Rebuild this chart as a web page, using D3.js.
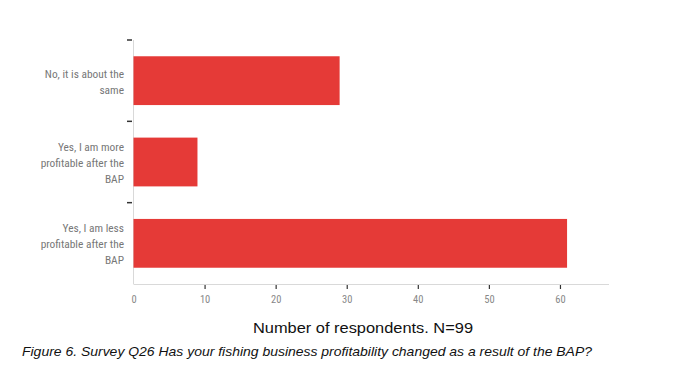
<!DOCTYPE html>
<html>
<head>
  <meta charset="utf-8">
  <title>Survey Q26</title>
  <script src="https://d3js.org/d3.v7.min.js"></script>
  <style>
    body { margin: 0; background: #fff; }
  </style>
</head>
<body>
  <svg id="grafico" width="673" height="367"></svg>

  <script>
    const width = 673;
    const height = 367;

    // dados
    const categorias = [
      ["No, it is about the", "same"],
      ["Yes, I am more", "profitable after the", "BAP"],
      ["Yes, I am less", "profitable after the", "BAP"]
    ];
    const valores = [29, 9, 61];
    const ticksX = [0, 10, 20, 30, 40, 50, 60];
    const tituloX = "Number of respondents. N=99";
    const legenda = "Figure 6. Survey Q26 Has your fishing business profitability changed as a result of the BAP?";

    const svg = d3.select("#grafico");
    const labelFont = "'Liberation Sans Narrow', 'Roboto Condensed', Arial, sans-serif";

    const x = d3.scaleLinear()
      .domain([0, 66.9])
      .range([133.5, 609]);

    const y = d3.scaleBand()
      .domain(d3.range(categorias.length))
      .range([40, 284])
      .paddingInner(0.4)
      .paddingOuter(0.2);

    // eixo y
    svg.append("line")
      .attr("x1", x(0)).attr("x2", x(0))
      .attr("y1", 40).attr("y2", 284)
      .attr("stroke", "#d9d9d9");

    // marcas nos limites das faixas
    const limites = d3.range(categorias.length).map(i => y(i) - y.step() * y.paddingOuter());
    svg.selectAll(".ytick")
      .data(limites)
      .enter().append("line")
      .attr("x1", 127).attr("x2", 132)
      .attr("y1", d => d).attr("y2", d => d)
      .attr("stroke", "#333").attr("stroke-width", 1.5);

    // barras
    svg.selectAll(".barra")
      .data(valores)
      .enter().append("rect")
      .attr("class", "barra")
      .attr("x", x(0))
      .attr("y", (_, i) => y(i))
      .attr("width", d => x(d) - x(0))
      .attr("height", y.bandwidth())
      .attr("fill", "#e53a37");

    // rótulos das categorias
    const rotulos = svg.selectAll(".rotulo")
      .data(categorias)
      .enter().append("text")
      .attr("class", "rotulo")
      .attr("text-anchor", "end")
      .style("font-family", labelFont)
      .style("font-size", "11.4px")
      .attr("fill", "#777");

    rotulos.each(function (linhas, i) {
      const centro = y(i) + y.bandwidth() / 2 + 1;
      const inicio = centro - (linhas.length - 1) * 8;
      d3.select(this).selectAll("tspan")
        .data(linhas)
        .enter().append("tspan")
        .attr("x", 124)
        .attr("y", (_, j) => inicio + j * 16)
        .attr("dy", "0.35em")
        .text(d => d);
    });

    // eixo x
    const eixoX = svg.append("g")
      .attr("transform", `translate(0,284)`)
      .call(d3.axisBottom(x).tickValues(ticksX).tickSize(5).tickPadding(7));

    eixoX.select(".domain")
      .attr("stroke", "#d9d9d9")
      .attr("d", `M${x(0)},0.5H609`);
    eixoX.selectAll(".tick line")
      .attr("stroke", "#333")
      .attr("stroke-width", 1.2)
      .attr("y1", 1);
    eixoX.selectAll(".tick").filter(d => d === 0).select("line").remove();
    eixoX.selectAll(".tick text")
      .style("font-family", labelFont)
      .style("font-size", "10.5px")
      .attr("fill", "#888");

    svg.append("text")
      .attr("x", 253)
      .attr("y", 333)
      .attr("textLength", 220)
      .attr("lengthAdjust", "spacingAndGlyphs")
      .style("font-family", "Arial, 'Liberation Sans', sans-serif")
      .style("font-size", "15.5px")
      .attr("fill", "#111")
      .text(tituloX);

    svg.append("text")
      .attr("x", 22)
      .attr("y", 356)
      .attr("textLength", 570)
      .attr("lengthAdjust", "spacingAndGlyphs")
      .style("font-family", "Arial, 'Liberation Sans', sans-serif")
      .style("font-size", "13px")
      .style("font-style", "italic")
      .attr("fill", "#111")
      .text(legenda);
  </script>
</body>
</html>
